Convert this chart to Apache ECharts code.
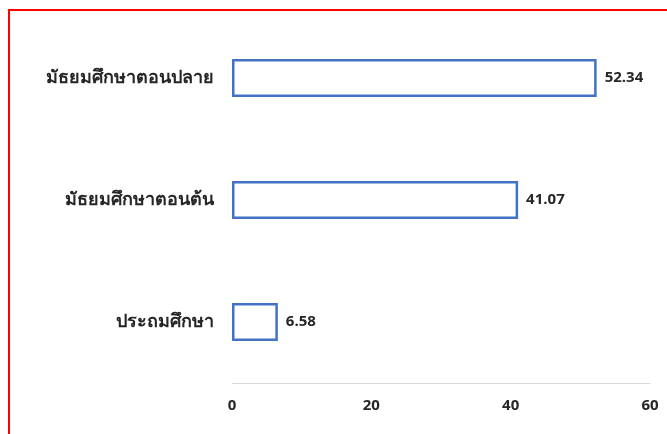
<!DOCTYPE html>
<html>
<head>
<meta charset="utf-8">
<script src="https://cdn.jsdelivr.net/npm/echarts@6/dist/echarts.min.js"></script>
<style>
html,body{margin:0;padding:0;background:#fff;}
#c{width:667px;height:434px;}
</style>
</head>
<body>
<div id="c"></div>
<script>
const categories = ['ประถมศึกษา', 'มัธยมศึกษาตอนต้น', 'มัธยมศึกษาตอนปลาย'];
const values = [6.58, 41.07, 52.34];
const xTicks = [0, 20, 40, 60];

const chart = echarts.init(document.getElementById('c'));
chart.setOption({
  animation: false,
  backgroundColor: '#ffffff',
  graphic: [{
    type: 'rect',
    shape: { x: 9, y: 10, width: 700, height: 500 },
    style: { fill: 'none', stroke: '#ff0000', lineWidth: 2 },
    silent: true
  }],
  grid: { left: 232, right: 17, top: 17, bottom: 51, containLabel: false },
  xAxis: {
    type: 'value',
    min: xTicks[0],
    max: xTicks[xTicks.length - 1],
    interval: 20,
    axisLine: { show: true, lineStyle: { color: '#d9d9d9', width: 1 } },
    axisTick: { show: false },
    splitLine: { show: false },
    axisLabel: {
      margin: 15,
      color: '#262626',
      fontWeight: 'bold',
      fontSize: 15,
      fontFamily: 'Open Sans, sans-serif'
    }
  },
  yAxis: {
    type: 'category',
    data: categories,
    axisLine: { show: false },
    axisTick: { show: false },
    axisLabel: {
      margin: 18,
      color: '#262626',
      fontWeight: 'bold',
      fontSize: 18,
      fontFamily: 'Noto Sans, sans-serif'
    }
  },
  series: [{
    type: 'bar',
    data: values,
    barWidth: 38,
    itemStyle: { color: '#ffffff', borderColor: '#4472C4', borderWidth: 2.5 },
    label: {
      show: true,
      position: 'right',
      distance: 8,
      color: '#262626',
      fontWeight: 'bold',
      fontSize: 15,
      fontFamily: 'Open Sans, sans-serif',
      formatter: p => p.value.toFixed(2)
    }
  }]
});
</script>
</body>
</html>
